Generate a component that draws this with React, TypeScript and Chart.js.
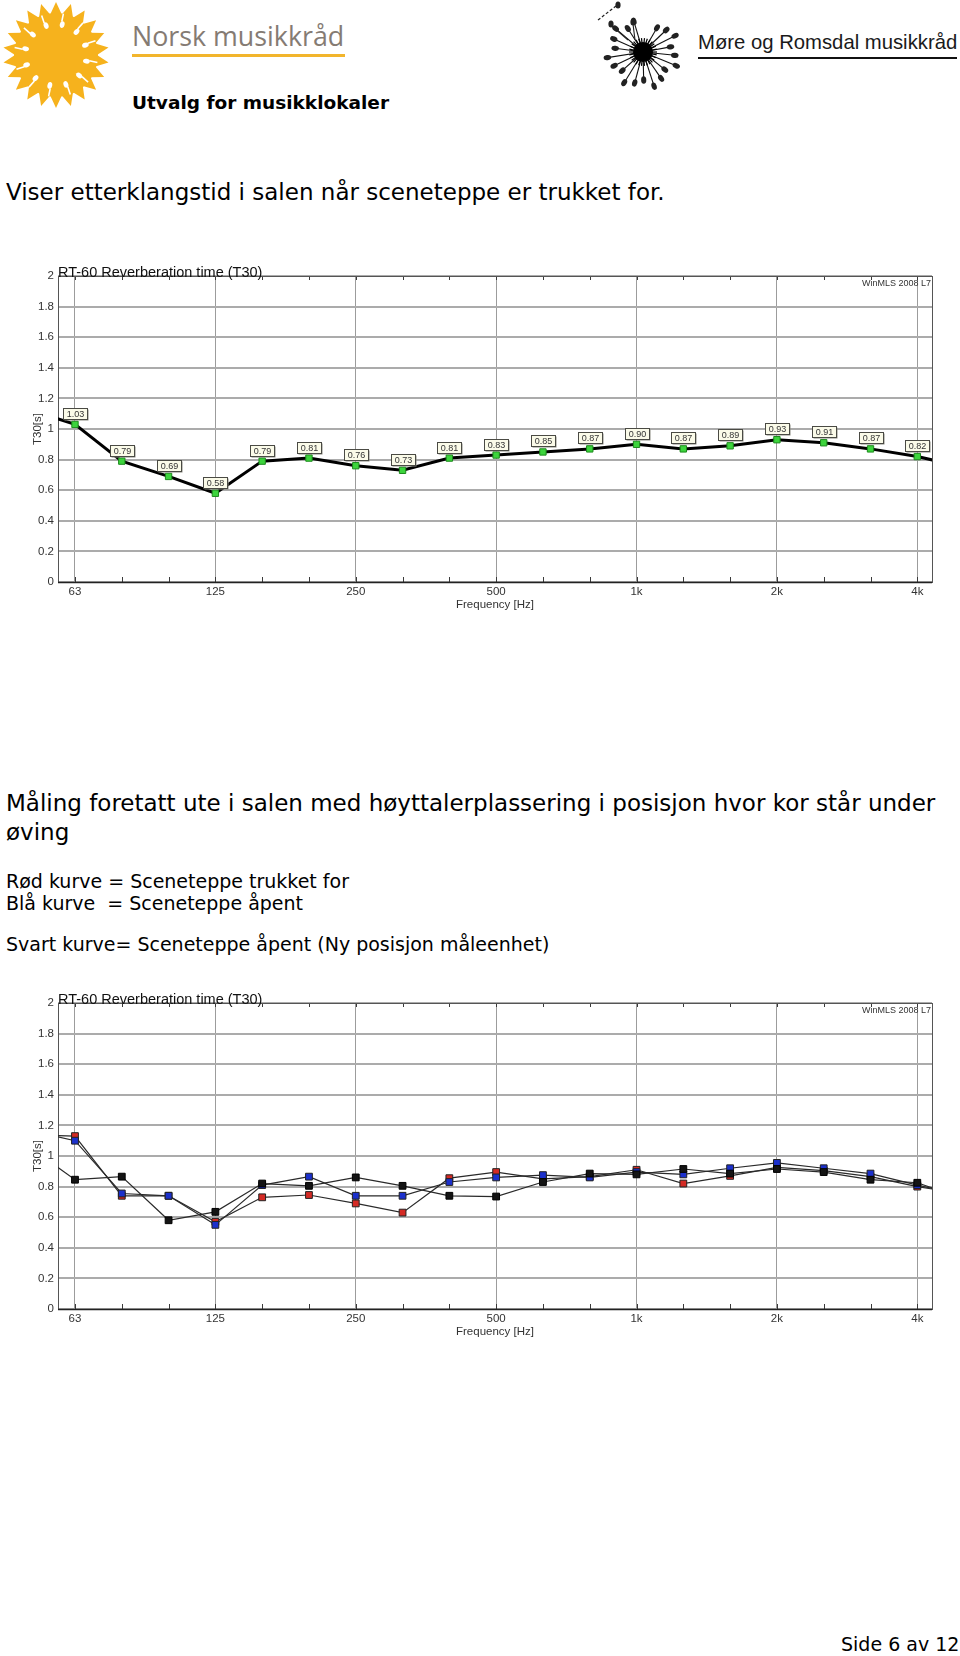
import React, { useEffect, useRef } from 'react';
import { Chart, registerables } from 'chart.js';

Chart.register(...registerables);

// ---------- data ----------
// third-octave bands (index = x position on the chart axis)
const BANDS = ['50', '63', '80', '100', '125', '160', '200', '250', '315', '400', '500', '630', '800', '1k', '1.25k', '1.6k', '2k', '2.5k', '3.15k', '4k', '5k'];
const OCTAVE_TICKS = ['63', '125', '250', '500', '1k', '2k', '4k'];
const X_MIN = 0.637; // visible band range (band index units)
const X_MAX = 19.314;
const Y_MIN = 0;
const Y_MAX = 2;
const Y_STEP = 0.2;

// Chart 1: curtain closed
const T30_CLOSED = [1.13, 1.03, 0.79, 0.69, 0.58, 0.79, 0.81, 0.76, 0.73, 0.81, 0.83, 0.85, 0.87, 0.90, 0.87, 0.89, 0.93, 0.91, 0.87, 0.82, 0.75];

// Chart 2
const T30_RED = [1.14, 1.13, 0.74, 0.74, 0.57, 0.73, 0.745, 0.69, 0.63, 0.855, 0.895, 0.85, 0.865, 0.91, 0.82, 0.87, 0.925, 0.905, 0.865, 0.80, 0.75];
const T30_BLUE = [1.17, 1.10, 0.755, 0.74, 0.55, 0.81, 0.865, 0.74, 0.74, 0.83, 0.86, 0.875, 0.86, 0.895, 0.88, 0.92, 0.955, 0.92, 0.885, 0.81, 0.74];
const T30_BLACK = [1.065, 0.845, 0.865, 0.58, 0.635, 0.82, 0.805, 0.86, 0.805, 0.74, 0.735, 0.83, 0.885, 0.88, 0.915, 0.885, 0.915, 0.895, 0.845, 0.825, 0.72];

const CHART_TITLE = 'RT-60 Reverberation time (T30)';
const WATERMARK = 'WinMLS 2008 L7';
const X_TITLE = 'Frequency [Hz]';
const Y_TITLE = 'T30[s]';

const AXIS_FONT = '"Liberation Sans", Arial, sans-serif';

const toPoints = (vals: number[]) => vals.map((y, i) => ({ x: i, y }));

// ---------- plugins ----------
const framePlugin = {
  id: 'frame',
  beforeDatasetsDraw(chart: any) {
    const { ctx, chartArea: a, scales } = chart;
    const xs = scales.x;
    ctx.save();
    ctx.strokeStyle = '#3a3a3a';
    ctx.lineWidth = 1;
    for (let i = 0; i < BANDS.length; i++) {
      if (i < X_MIN || i > X_MAX) continue;
      const px = Math.round(xs.getPixelForValue(i)) + 0.5;
      ctx.beginPath();
      ctx.moveTo(px, a.top);
      ctx.lineTo(px, a.top + 4);
      ctx.moveTo(px, a.bottom);
      ctx.lineTo(px, a.bottom - 5);
      ctx.stroke();
    }
    ctx.strokeStyle = '#555';
    ctx.strokeRect(Math.round(a.left) + 0.5, Math.round(a.top) + 0.5, Math.round(a.right - a.left), Math.round(a.bottom - a.top));
    ctx.strokeStyle = '#222';
    ctx.lineWidth = 1.5;
    ctx.beginPath();
    ctx.moveTo(a.left, Math.round(a.bottom) + 0.5);
    ctx.lineTo(a.right, Math.round(a.bottom) + 0.5);
    ctx.stroke();
    ctx.restore();
  },
};

const textPlugin = {
  id: 'texts',
  afterDraw(chart: any) {
    const { ctx, chartArea: a } = chart;
    ctx.save();
    ctx.fillStyle = '#111';
    ctx.font = `14.5px ${AXIS_FONT}`;
    ctx.textAlign = 'left';
    ctx.textBaseline = 'alphabetic';
    ctx.fillText(CHART_TITLE, a.left, a.top + 1);

    ctx.fillStyle = '#333';
    ctx.font = `9px ${AXIS_FONT}`;
    ctx.textAlign = 'right';
    ctx.textBaseline = 'top';
    ctx.fillText(WATERMARK, a.right - 1, a.top + 3);

    ctx.font = `11.5px ${AXIS_FONT}`;
    ctx.textAlign = 'center';
    ctx.textBaseline = 'middle';
    ctx.fillText(X_TITLE, (a.left + a.right) / 2, a.bottom + 23);

    ctx.translate(a.left - 20, (a.top + a.bottom) / 2);
    ctx.rotate(-Math.PI / 2);
    ctx.fillText(Y_TITLE, 0, 0);
    ctx.restore();
  },
};

const valueLabelPlugin = {
  id: 'valueLabels',
  afterDatasetsDraw(chart: any) {
    const { ctx } = chart;
    const meta = chart.getDatasetMeta(0);
    const data = chart.data.datasets[0].data;
    ctx.save();
    ctx.font = `9px ${AXIS_FONT}`;
    ctx.textAlign = 'center';
    ctx.textBaseline = 'middle';
    meta.data.forEach((el: any, i: number) => {
      const v = data[i];
      if (v.x < X_MIN || v.x > X_MAX) return;
      const txt = v.y.toFixed(2);
      const w = Math.round(ctx.measureText(txt).width + 6);
      const h = 11;
      const x0 = Math.round(el.x - w / 2) + 0.5;
      const y0 = Math.round(el.y - 5.5 - h) + 0.5;
      ctx.fillStyle = '#8a8a80';
      ctx.fillRect(x0 + 1, y0 + 1, w, h);
      ctx.fillStyle = '#fbfbe9';
      ctx.fillRect(x0, y0, w, h);
      ctx.strokeStyle = '#4a4a44';
      ctx.lineWidth = 1;
      ctx.strokeRect(x0, y0, w, h);
      ctx.fillStyle = '#333';
      ctx.fillText(txt, x0 + w / 2, y0 + h / 2 + 0.5);
    });
    ctx.restore();
  },
};

function chartOptions(): any {
  return {
    animation: false,
    responsive: false,
    devicePixelRatio: 1,
    layout: { padding: { top: 21, right: 28, left: 0, bottom: 0 } },
    plugins: { legend: { display: false }, tooltip: { enabled: false }, title: { display: false } },
    elements: { line: { tension: 0 } },
    scales: {
      x: {
        type: 'linear',
        min: X_MIN,
        max: X_MAX,
        afterFit: (s: any) => {
          s.height = 33;
        },
        afterBuildTicks: (s: any) => {
          s.ticks = OCTAVE_TICKS.map((l) => ({ value: BANDS.indexOf(l) }));
        },
        ticks: {
          autoSkip: false,
          maxRotation: 0,
          padding: 3,
          color: '#333',
          font: { family: AXIS_FONT, size: 11.5 },
          callback: (v: number) => BANDS[Math.round(v)],
        },
        grid: { color: '#9c9c9c', lineWidth: 1, drawTicks: false },
        border: { display: false },
      },
      y: {
        type: 'linear',
        min: Y_MIN,
        max: Y_MAX,
        afterFit: (s: any) => {
          s.width = 58;
        },
        ticks: {
          stepSize: Y_STEP,
          padding: 4,
          color: '#333',
          font: { family: AXIS_FONT, size: 11.5 },
          callback: (v: number) => String(Math.round(v * 10) / 10),
        },
        grid: { color: '#ababab', lineWidth: 2, drawTicks: false },
        border: { display: false },
      },
    },
  };
}

function ChartCanvas({ top, variant }: { top: number; variant: 'single' | 'multi' }) {
  const ref = useRef<HTMLCanvasElement | null>(null);
  useEffect(() => {
    if (!ref.current) return;
    const datasets: any[] =
      variant === 'single'
        ? [
            {
              data: toPoints(T30_CLOSED),
              borderColor: '#000',
              borderWidth: 3,
              pointStyle: 'rect',
              pointRadius: 4.5,
              pointBackgroundColor: '#3cd43c',
              pointBorderColor: '#1d8a1d',
              pointBorderWidth: 1,
            },
          ]
        : [
            {
              data: toPoints(T30_RED),
              order: 2,
              borderColor: '#2a2a2a',
              borderWidth: 1.2,
              pointStyle: 'rect',
              pointRadius: 4.8,
              pointBackgroundColor: '#d42a24',
              pointBorderColor: '#222',
              pointBorderWidth: 1,
            },
            {
              data: toPoints(T30_BLUE),
              order: 1,
              borderColor: '#2a2a2a',
              borderWidth: 1.2,
              pointStyle: 'rect',
              pointRadius: 4.8,
              pointBackgroundColor: '#1b30cc',
              pointBorderColor: '#222',
              pointBorderWidth: 1,
            },
            {
              data: toPoints(T30_BLACK),
              order: 0,
              borderColor: '#2a2a2a',
              borderWidth: 1.2,
              pointStyle: 'rect',
              pointRadius: 4.8,
              pointBackgroundColor: '#141414',
              pointBorderColor: '#000',
              pointBorderWidth: 1,
            },
          ];
    const plugins: any[] = [framePlugin, textPlugin];
    if (variant === 'single') plugins.push(valueLabelPlugin);
    const chart = new Chart(ref.current, {
      type: 'line',
      data: { datasets },
      options: chartOptions(),
      plugins,
    } as any);
    return () => chart.destroy();
  }, [variant]);
  return (
    <canvas
      ref={ref}
      width={960}
      height={360}
      style={{ position: 'absolute', left: 0, top, width: 960, height: 360, display: 'block' }}
    />
  );
}

function SunLogo() {
  const cx = 56;
  const cy = 55;
  const spikes = 22;
  const pts: string[] = [];
  for (let k = 0; k < spikes * 2; k++) {
    const r = k % 2 === 0 ? 53 : 41;
    const ang = (k / (spikes * 2)) * Math.PI * 2 - Math.PI / 2;
    pts.push(`${(cx + r * Math.cos(ang)).toFixed(1)},${(cy + r * Math.sin(ang)).toFixed(1)}`);
  }
  const notes = [];
  for (let k = 0; k < 12; k++) {
    const ang = (k / 12) * Math.PI * 2 + 0.2;
    const r = 31;
    const x = cx + r * Math.cos(ang);
    const y = cy + r * Math.sin(ang);
    const deg = (ang * 180) / Math.PI;
    notes.push(
      <g key={k} transform={`translate(${x.toFixed(1)},${y.toFixed(1)}) rotate(${deg.toFixed(1)})`}>
        <ellipse cx={0} cy={0} rx={3.4} ry={2.4} fill="#fff" />
        <line x1={2.8} y1={-1} x2={11} y2={-1} stroke="#fff" strokeWidth={1.6} />
      </g>
    );
  }
  return (
    <svg width={112} height={112} style={{ position: 'absolute', left: 0, top: 0 }}>
      <polygon points={pts.join(' ')} fill="#f6b21d" />
      <circle cx={cx} cy={cy} r={42} fill="#f6b21d" />
      {notes}
    </svg>
  );
}

function DandelionLogo() {
  const cx = 53;
  const cy = 52;
  const rays = [];
  for (let k = 0; k < 20; k++) {
    const deg = -60 + k * 16.5;
    const ang = (deg * Math.PI) / 180;
    const L = 28 + (k % 3) * 4;
    const x2 = cx + L * Math.cos(ang);
    const y2 = cy + L * Math.sin(ang);
    rays.push(
      <g key={k}>
        <line x1={cx} y1={cy} x2={x2.toFixed(1)} y2={y2.toFixed(1)} stroke="#111" strokeWidth={1.1} />
        <ellipse
          cx={x2.toFixed(1)}
          cy={y2.toFixed(1)}
          rx={2.6}
          ry={3.8}
          fill="#222"
          transform={`rotate(${(deg + 90).toFixed(1)} ${x2.toFixed(1)} ${y2.toFixed(1)})`}
        />
      </g>
    );
  }
  const spikes = [];
  for (let k = 0; k < 30; k++) {
    const ang = (k / 30) * Math.PI * 2;
    spikes.push(
      <line key={k} x1={cx} y1={cy} x2={(cx + 14 * Math.cos(ang)).toFixed(1)} y2={(cy + 14 * Math.sin(ang)).toFixed(1)} stroke="#000" strokeWidth={1.2} />
    );
  }
  return (
    <svg width={120} height={100} style={{ position: 'absolute', left: 590, top: 0 }}>
      {rays}
      {spikes}
      <circle cx={cx} cy={cy} r={10} fill="#000" />
      <line x1={8} y1={20} x2={26} y2={6} stroke="#222" strokeWidth={1.2} strokeDasharray="3 2" />
      <ellipse cx={28} cy={5} rx={2.6} ry={3.6} fill="#222" />
      <line x1={22} y1={26} x2={38} y2={40} stroke="#222" strokeWidth={1.1} />
      <ellipse cx={21} cy={24} rx={2.6} ry={3.6} fill="#222" />
      <line x1={43} y1={24} x2={45} y2={40} stroke="#222" strokeWidth={1.1} />
      <ellipse cx={43} cy={22} rx={2.6} ry={3.6} fill="#222" />
    </svg>
  );
}

function T({ left, top, size, children, weight = 400, family = '"DejaVu Sans", Verdana, sans-serif', color = '#000' }: any) {
  return (
    <div
      style={{
        position: 'absolute',
        left,
        top,
        fontSize: size,
        lineHeight: `${size}px`,
        fontFamily: family,
        fontWeight: weight,
        color,
        whiteSpace: 'pre',
        margin: 0,
      }}
    >
      {children}
    </div>
  );
}

export default function App() {
  return (
    <div style={{ position: 'absolute', left: 0, top: 0, width: 960, height: 1656, background: '#fff', overflow: 'hidden' }}>
      <SunLogo />
      <T left={132} top={22.5} size={26.8} family='"Open Sans", sans-serif' color="#857b73">
        Norsk musikkråd
      </T>
      <div style={{ position: 'absolute', left: 132, top: 54, width: 213, height: 2.5, background: '#f2b52c' }} />
      <T left={132} top={94.3} size={18.5} weight={700}>
        Utvalg for musikklokaler
      </T>

      <DandelionLogo />
      <T left={698} top={32} size={20.3} family='"Liberation Sans", Arial, sans-serif' color="#1a1a1a">
        Møre og Romsdal musikkråd
      </T>
      <div style={{ position: 'absolute', left: 698, top: 56.5, width: 259, height: 2.5, background: '#111' }} />

      <T left={6} top={180.5} size={23}>
        Viser etterklangstid i salen når sceneteppe er trukket for.
      </T>

      <ChartCanvas top={255} variant="single" />

      <T left={6} top={792} size={23}>
        Måling foretatt ute i salen med høyttalerplassering i posisjon hvor kor står under
      </T>
      <T left={6} top={820.5} size={23}>
        øving
      </T>
      <T left={6} top={872.2} size={19}>
        Rød kurve = Sceneteppe trukket for
      </T>
      <T left={6} top={894} size={19}>
        {'Blå kurve  = Sceneteppe åpent'}
      </T>
      <T left={6} top={934.6} size={19}>
        Svart kurve= Sceneteppe åpent (Ny posisjon måleenhet)
      </T>

      <ChartCanvas top={982} variant="multi" />

      <T left={841} top={1635} size={19}>
        Side 6 av 12
      </T>
    </div>
  );
}
